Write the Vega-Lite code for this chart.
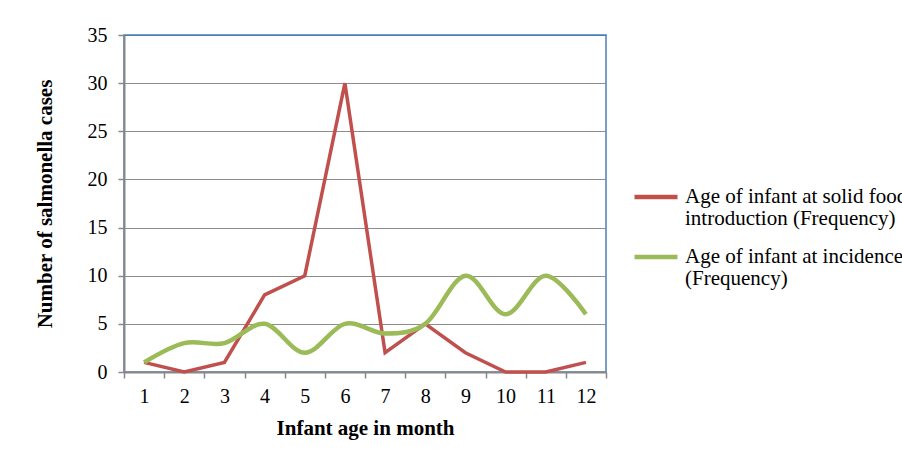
{
  "$schema": "https://vega.github.io/schema/vega-lite/v6.json",
  "autosize": {"type": "none"},
  "width": 482,
  "height": 337,
  "padding": {"left": 124, "top": 35, "right": 296, "bottom": 83},
  "background": "white",
  "config": {
    "font": "Liberation Serif",
    "view": {"stroke": "#4a7ebb", "strokeWidth": 1.5},
    "style": {"guide-label": {"lineHeight": 22}}
  },
  "datasets": {
    "rows": [
      {"month": "1", "value": 1, "series": "solid"},
      {"month": "2", "value": 0, "series": "solid"},
      {"month": "3", "value": 1, "series": "solid"},
      {"month": "4", "value": 8, "series": "solid"},
      {"month": "5", "value": 10, "series": "solid"},
      {"month": "6", "value": 30, "series": "solid"},
      {"month": "7", "value": 2, "series": "solid"},
      {"month": "8", "value": 5, "series": "solid"},
      {"month": "9", "value": 2, "series": "solid"},
      {"month": "10", "value": 0, "series": "solid"},
      {"month": "11", "value": 0, "series": "solid"},
      {"month": "12", "value": 1, "series": "solid"},
      {"month": "1", "value": 1, "series": "incidence"},
      {"month": "2", "value": 3, "series": "incidence"},
      {"month": "3", "value": 3, "series": "incidence"},
      {"month": "4", "value": 5, "series": "incidence"},
      {"month": "5", "value": 2, "series": "incidence"},
      {"month": "6", "value": 5, "series": "incidence"},
      {"month": "7", "value": 4, "series": "incidence"},
      {"month": "8", "value": 5, "series": "incidence"},
      {"month": "9", "value": 10, "series": "incidence"},
      {"month": "10", "value": 6, "series": "incidence"},
      {"month": "11", "value": 10, "series": "incidence"},
      {"month": "12", "value": 6, "series": "incidence"}
    ]
  },
  "data": {"name": "rows"},
  "encoding": {
    "x": {
      "field": "month",
      "type": "ordinal",
      "sort": ["1","2","3","4","5","6","7","8","9","10","11","12"],
      "bandPosition": 0.5,
      "scale": {"type": "band", "paddingInner": 0, "paddingOuter": 0},
      "axis": {
        "title": "Infant age in month",
        "labelAngle": 0,
        "labelFontSize": 20,
        "labelColor": "#000",
        "labelPadding": 8,
        "tickBand": "extent",
        "tickSize": 6,
        "tickColor": "#888",
        "tickWidth": 1.5,
        "domainColor": "#888",
        "domainWidth": 2,
        "titleFontSize": 21,
        "titleFontWeight": "bold",
        "titleColor": "#000",
        "titlePadding": 11,
        "grid": false
      }
    },
    "y": {
      "field": "value",
      "type": "quantitative",
      "scale": {"domain": [0, 35], "nice": false},
      "axis": {
        "title": "Number of salmonella cases",
        "values": [0, 5, 10, 15, 20, 25, 30, 35],
        "labelFontSize": 20,
        "labelColor": "#000",
        "labelPadding": 11,
        "tickSize": 6,
        "tickColor": "#888",
        "tickWidth": 1.5,
        "domainColor": "#888",
        "domainWidth": 2,
        "gridColor": {"condition": {"test": "datum.value == 35", "value": "#4a7ebb"}, "value": "#8c8c8c"},
        "gridWidth": 1.2,
        "gridOpacity": 1,
        "titleFontSize": 21,
        "titleFontWeight": "bold",
        "titleColor": "#000",
        "titlePadding": 32
      }
    },
    "color": {
      "field": "series",
      "type": "nominal",
      "scale": {"domain": ["solid", "incidence"], "range": ["#c0504d", "#9bbb59"]},
      "legend": {
        "title": null,
        "orient": "none",
        "legendX": 508,
        "legendY": 138,
        "symbolType": "stroke",
        "symbolSize": 1849,
        "symbolStrokeWidth": 4.5,
        "labelFontSize": 21,
        "labelColor": "#000",
        "labelLimit": 500,
        "labelOffset": 5,
        "labelBaseline": "top",
        "rowPadding": 4,
        "labelExpr": "datum.value == 'solid' ? ['Age of infant at solid food', 'introduction (Frequency)'] : ['Age of infant at incidence', '(Frequency)']",
        "encode": {"labels": {"update": {"dy": {"value": -11}}}}
      }
    }
  },
  "layer": [
    {
      "transform": [{"filter": "datum.series == 'solid'"}],
      "mark": {"type": "line", "strokeWidth": 3.5, "interpolate": "linear"}
    },
    {
      "transform": [{"filter": "datum.series == 'incidence'"}],
      "mark": {"type": "line", "strokeWidth": 4.5, "interpolate": "cardinal"}
    }
  ]
}
